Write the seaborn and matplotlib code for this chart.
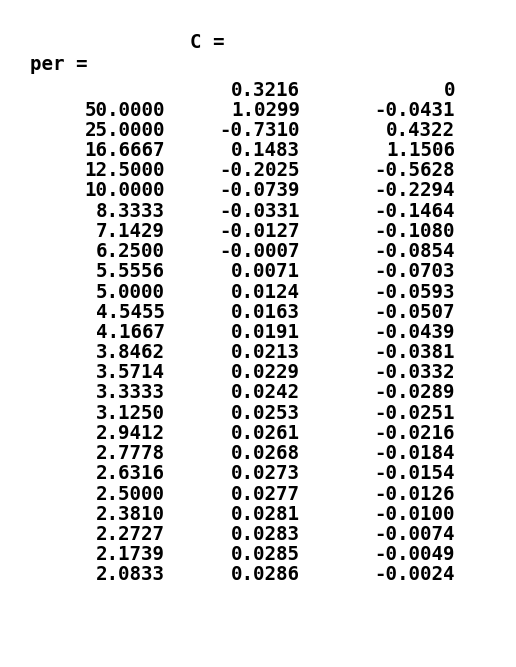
import matplotlib
matplotlib.use("Agg")
import matplotlib.pyplot as plt
import seaborn as sns

# MATLAB console output: per and C
per = [50.0000, 25.0000, 16.6667, 12.5000, 10.0000, 8.3333, 7.1429, 6.2500,
       5.5556, 5.0000, 4.5455, 4.1667, 3.8462, 3.5714, 3.3333, 3.1250,
       2.9412, 2.7778, 2.6316, 2.5000, 2.3810, 2.2727, 2.1739, 2.0833]
c_first = [0.3216, 0]
c1 = [1.0299, -0.7310, 0.1483, -0.2025, -0.0739, -0.0331, -0.0127, -0.0007,
      0.0071, 0.0124, 0.0163, 0.0191, 0.0213, 0.0229, 0.0242, 0.0253,
      0.0261, 0.0268, 0.0273, 0.0277, 0.0281, 0.0283, 0.0285, 0.0286]
c2 = [-0.0431, 0.4322, 1.1506, -0.5628, -0.2294, -0.1464, -0.1080, -0.0854,
      -0.0703, -0.0593, -0.0507, -0.0439, -0.0381, -0.0332, -0.0289, -0.0251,
      -0.0216, -0.0184, -0.0154, -0.0126, -0.0100, -0.0074, -0.0049, -0.0024]

sns.set_style("white")
fig = plt.figure(figsize=(5.16, 6.67), dpi=100)
ax = fig.add_axes([0, 0, 1, 1])
ax.set_xlim(0, 516)
ax.set_ylim(667, 0)
ax.axis("off")

font = dict(family="DejaVu Sans Mono", fontweight="bold", fontsize=13.8,
            color="black", va="center")
step = 20.2
y0 = 90

ax.text(190, 42, "C =", ha="left", **font)
ax.text(30, 64, "per =", ha="left", **font)
ax.text(300, y0, f"{c_first[0]:.4f}", ha="right", **font)
ax.text(455, y0, "0", ha="right", **font)

for i, (p, a, b) in enumerate(zip(per, c1, c2)):
    y = y0 + step * (i + 1)
    ax.text(165, y, f"{p:.4f}", ha="right", **font)
    ax.text(300, y, f"{a:.4f}", ha="right", **font)
    ax.text(455, y, f"{b:.4f}", ha="right", **font)

fig.savefig("out.png", dpi=100)
